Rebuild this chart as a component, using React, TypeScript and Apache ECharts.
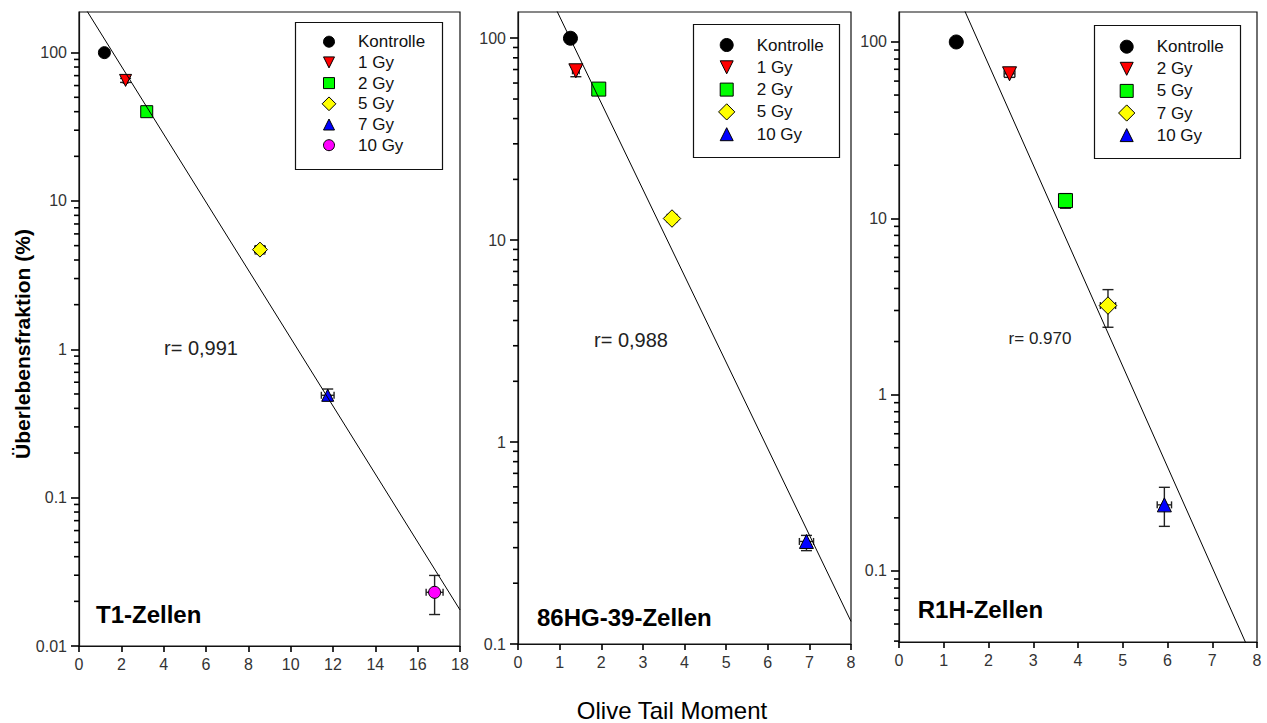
import React, { useEffect, useRef } from "react";
import * as echarts from "echarts";

// ---------- data ----------
const xTitle = "Olive Tail Moment";
const yTitle = "Überlebensfraktion (%)";
const yTickExps = [-2, -1, 0, 1, 2];
const yTickLabels = ["0.01", "0.1", "1", "10", "100"];

// Panel 1: T1-Zellen
const titleP1 = "T1-Zellen";
const rP1 = "r= 0,991";
const doseP1 = ["Kontrolle", "1 Gy", "2 Gy", "5 Gy", "7 Gy", "10 Gy"];
const xP1 = [1.2, 2.2, 3.2, 8.55, 11.75, 16.8];
const yP1 = [100, 65, 40, 4.7, 0.49, 0.023];
const xErrP1 = [0.12, 0.1, 0.1, 0.25, 0.3, 0.4];
const yLowP1 = [97, 63, 39, 4.4, 0.45, 0.0163];
const yHighP1 = [104, 67, 41, 5.0, 0.54, 0.0299];
const fitXP1 = [0, 18];
const fitYP1 = [233, 0.0175];

// Panel 2: 86HG-39-Zellen
const titleP2 = "86HG-39-Zellen";
const rP2 = "r= 0,988";
const doseP2 = ["Kontrolle", "1 Gy", "2 Gy", "5 Gy", "10 Gy"];
const xP2 = [1.26, 1.39, 1.94, 3.7, 6.93];
const yP2 = [100, 69, 56, 12.8, 0.322];
const xErrP2 = [0.05, 0.08, 0.05, 0.08, 0.17];
const yLowP2 = [98, 64.5, 55, 12.3, 0.29];
const yHighP2 = [102, 72, 57, 13.4, 0.345];
const fitXP2 = [0, 8];
const fitYP2 = [343, 0.1294];

// Panel 3: R1H-Zellen
const titleP3 = "R1H-Zellen";
const rP3 = "r= 0.970";
const doseP3 = ["Kontrolle", "2 Gy", "5 Gy", "7 Gy", "10 Gy"];
const xP3 = [1.28, 2.47, 3.72, 4.67, 5.93];
const yP3 = [100, 66, 12.6, 3.2, 0.237];
const xErrP3 = [0.05, 0.12, 0.05, 0.17, 0.16];
const yLowP3 = [96, 63, 11.4, 2.41, 0.179];
const yHighP3 = [104, 70, 13.8, 3.94, 0.298];
const fitXP3 = [0, 8];
const fitYP3 = [1035, 0.0281];

// ---------- styles / layout ----------
const FONT = "'Liberation Sans', Arial, Helvetica, sans-serif";
const AXIS = "#000";
const markerStyles = [
  { symbol: "circle", color: "#000000", rotate: 0, k: 1 },
  { symbol: "triangle", color: "#ff0000", rotate: 180, k: 1 },
  { symbol: "rect", color: "#00ff00", rotate: 0, k: 1 },
  { symbol: "diamond", color: "#ffff00", rotate: 0, k: 1.25 },
  { symbol: "triangle", color: "#0000ff", rotate: 0, k: 1 },
  { symbol: "circle", color: "#ff00ff", rotate: 0, k: 1 },
];

const panels = [
  {
    title: titleP1, r: rP1, names: doseP1, x: xP1, y: yP1, xErr: xErrP1, yLow: yLowP1, yHigh: yHighP1, fitX: fitXP1, fitY: fitYP1,
    left: 79, top: 12, width: 381, height: 634, xMax: 18, xInt: 2, yMin: -2, yMax: 2.274, size: 12,
    legend: { x: 295.5, y: 22.5, w: 147, h: 147, mx: 329, tx: 358, ry: 41.7, dy: 20.7, ms: 11 },
    rPos: { x: 201, y: 348, fs: 20 }, tPos: { x: 96, y: 614 },
  },
  {
    title: titleP2, r: rP2, names: doseP2, x: xP2, y: yP2, xErr: xErrP2, yLow: yLowP2, yHigh: yHighP2, fitX: fitXP2, fitY: fitYP2,
    left: 518, top: 12, width: 333, height: 632, xMax: 8, xInt: 1, yMin: -1, yMax: 2.13, size: 14,
    legend: { x: 693.5, y: 24.5, w: 146, h: 133, mx: 726.7, tx: 756.7, ry: 45, dy: 22.3, ms: 13 },
    rPos: { x: 631, y: 340, fs: 20 }, tPos: { x: 537, y: 617 },
  },
  {
    title: titleP3, r: rP3, names: doseP3, x: xP3, y: yP3, xErr: xErrP3, yLow: yLowP3, yHigh: yHighP3, fitX: fitXP3, fitY: fitYP3,
    left: 899, top: 12, width: 358, height: 630, xMax: 8, xInt: 1, yMin: -1.403, yMax: 2.17, size: 14,
    legend: { x: 1094.5, y: 25.5, w: 146, h: 133, mx: 1126.7, tx: 1156.7, ry: 46.7, dy: 22.1, ms: 13 },
    rPos: { x: 1040, y: 338, fs: 17 }, tPos: { x: 917.7, y: 609 },
  },
];

function minorTicks(min: number, max: number) {
  const out: number[] = [];
  for (let d = Math.floor(min) - 1; d <= Math.ceil(max); d++) {
    for (let k = 2; k <= 9; k++) {
      const v = d + Math.log10(k);
      if (v >= min - 1e-9 && v <= max + 1e-9) out.push(v);
    }
  }
  return out;
}

function legendSymbol(st: any, cx: number, cy: number, s: number) {
  const style = { fill: st.color, stroke: "#000", lineWidth: 1 };
  const h = (s * st.k) / 2;
  if (st.symbol === "circle") return { type: "circle", shape: { cx, cy, r: h }, style };
  if (st.symbol === "rect") return { type: "rect", shape: { x: cx - h, y: cy - h, width: 2 * h, height: 2 * h }, style };
  if (st.symbol === "diamond")
    return { type: "polygon", shape: { points: [[cx, cy - h], [cx + h, cy], [cx, cy + h], [cx - h, cy]] }, style };
  if (st.rotate === 180)
    return { type: "polygon", shape: { points: [[cx - h, cy - h], [cx + h, cy - h], [cx, cy + h]] }, style };
  return { type: "polygon", shape: { points: [[cx, cy - h], [cx + h, cy + h], [cx - h, cy + h]] }, style };
}

function buildOption() {
  const grid: any[] = [];
  const xAxis: any[] = [];
  const yAxis: any[] = [];
  const series: any[] = [];
  const graphic: any[] = [];

  panels.forEach((p, i) => {
    grid.push({ left: p.left, top: p.top, width: p.width, height: p.height, show: true, borderColor: "#111", borderWidth: 1.2 });
    xAxis.push({
      type: "value", gridIndex: i, min: 0, max: p.xMax, interval: p.xInt, position: "bottom",
      axisLine: { show: true, onZero: false, lineStyle: { color: "#111", width: 1.2 } },
      axisTick: { show: true, length: 6, lineStyle: { color: AXIS, width: 1.6 } },
      axisLabel: { color: "#333", fontSize: 16, fontFamily: FONT, margin: 10 },
      splitLine: { show: false },
    });
    const majors = yTickExps.filter((e) => e >= p.yMin - 1e-9 && e <= p.yMax + 1e-9);
    yAxis.push({
      type: "value", gridIndex: i, min: p.yMin, max: p.yMax, position: "left",
      axisLine: { show: true, onZero: false, lineStyle: { color: "#111", width: 1.2 } },
      axisTick: { show: true, length: 8, customValues: majors, lineStyle: { color: AXIS, width: 1.6 } },
      axisLabel: {
        customValues: majors, color: "#333", fontSize: 16, fontFamily: FONT, margin: 12,
        formatter: (v: number) => {
          const k = yTickExps.findIndex((e) => Math.abs(e - v) < 1e-6);
          return k >= 0 ? yTickLabels[k] : "";
        },
      },
      splitLine: { show: false },
    });

    series.push({
      type: "line", xAxisIndex: i, yAxisIndex: i, symbol: "none", clip: true, silent: true,
      lineStyle: { color: "#000", width: 1 },
      data: p.fitX.map((x, j) => [x, Math.log10(p.fitY[j])]),
    });

    // minor log ticks (2..9 of each decade), positioned through the y scale
    series.push({
      type: "custom", xAxisIndex: i, yAxisIndex: i, silent: true, clip: false, z: 5,
      data: minorTicks(p.yMin, p.yMax).map((v) => [0.5, v]),
      encode: { x: 0, y: 1 },
      renderItem: (params: any, api: any) => {
        const pt = api.coord([0, api.value(1)]);
        return {
          type: "group",
          children: [
            {
              type: "line",
              shape: { x1: pt[0] - 5, y1: pt[1], x2: pt[0], y2: pt[1] },
              style: { stroke: AXIS, lineWidth: 1.6, fill: null },
            },
          ],
        };
      },
    });

    series.push({
      type: "custom", xAxisIndex: i, yAxisIndex: i, silent: true,
      data: p.x.map((x, j) => [x, Math.log10(p.y[j]), p.xErr[j], Math.log10(p.yLow[j]), Math.log10(p.yHigh[j])]),
      encode: { x: 0, y: 1 },
      renderItem: (params: any, api: any) => {
        const x = api.value(0), y = api.value(1), xe = api.value(2), ylo = api.value(3), yhi = api.value(4);
        const lo = api.coord([x, ylo]);
        const hi = api.coord([x, yhi]);
        const l = api.coord([x - xe, y]);
        const r = api.coord([x + xe, y]);
        const cap = 5.5, capH = 3.5;
        const style = { stroke: "#222", lineWidth: 1.4, fill: null };
        return {
          type: "group",
          children: [
            { type: "line", shape: { x1: lo[0], y1: lo[1], x2: hi[0], y2: hi[1] }, style },
            { type: "line", shape: { x1: lo[0] - cap, y1: lo[1], x2: lo[0] + cap, y2: lo[1] }, style },
            { type: "line", shape: { x1: hi[0] - cap, y1: hi[1], x2: hi[0] + cap, y2: hi[1] }, style },
            { type: "line", shape: { x1: l[0], y1: l[1], x2: r[0], y2: r[1] }, style },
            { type: "line", shape: { x1: l[0], y1: l[1] - capH, x2: l[0], y2: l[1] + capH }, style },
            { type: "line", shape: { x1: r[0], y1: r[1] - capH, x2: r[0], y2: r[1] + capH }, style },
          ],
        };
      },
    });

    series.push({
      type: "scatter", xAxisIndex: i, yAxisIndex: i, silent: true,
      data: p.x.map((x, j) => {
        const st = markerStyles[j];
        return {
          name: p.names[j],
          value: [x, Math.log10(p.y[j])],
          symbol: st.symbol,
          symbolRotate: st.rotate,
          symbolSize: p.size * st.k,
          itemStyle: { color: st.color, borderColor: "#000", borderWidth: 1, opacity: 1 },
        };
      }),
    });

    const lg = p.legend;
    graphic.push({ type: "rect", shape: { x: lg.x, y: lg.y, width: lg.w, height: lg.h }, style: { fill: "#fff", stroke: "#111", lineWidth: 1.2 }, z: 10 });
    p.names.forEach((n, j) => {
      const cy = lg.ry + j * lg.dy;
      graphic.push({ ...legendSymbol(markerStyles[j], lg.mx, cy, lg.ms), z: 11 });
      graphic.push({
        type: "text", x: lg.tx, y: cy, z: 11,
        style: { text: n, fill: "#111", font: `17px ${FONT}`, textAlign: "left", textVerticalAlign: "middle" },
      });
    });
    graphic.push({
      type: "text", x: p.rPos.x, y: p.rPos.y, z: 11,
      style: { text: p.r, fill: "#222", font: `${p.rPos.fs}px ${FONT}`, textAlign: "center", textVerticalAlign: "middle" },
    });
    graphic.push({
      type: "text", x: p.tPos.x, y: p.tPos.y, z: 11,
      style: { text: p.title, fill: "#000", font: `bold 24px ${FONT}`, textAlign: "left", textVerticalAlign: "middle" },
    });
  });

  graphic.push({
    type: "text", x: 22, y: 344, rotation: Math.PI / 2, z: 11,
    style: { text: yTitle, fill: "#000", font: `bold 21px ${FONT}`, textAlign: "center", textVerticalAlign: "middle" },
  });
  graphic.push({
    type: "text", x: 672, y: 710, z: 11,
    style: { text: xTitle, fill: "#000", font: `24px ${FONT}`, textAlign: "center", textVerticalAlign: "middle" },
  });

  return { animation: false, backgroundColor: "#fff", grid, xAxis, yAxis, series, graphic };
}

export default function App() {
  const ref = useRef<HTMLDivElement>(null);
  useEffect(() => {
    document.body.style.margin = "0";
    const chart = echarts.init(ref.current as HTMLDivElement, null, { renderer: "svg" });
    chart.setOption(buildOption() as any);
    return () => chart.dispose();
  }, []);
  return <div ref={ref} style={{ width: 1267, height: 723 }} />;
}
